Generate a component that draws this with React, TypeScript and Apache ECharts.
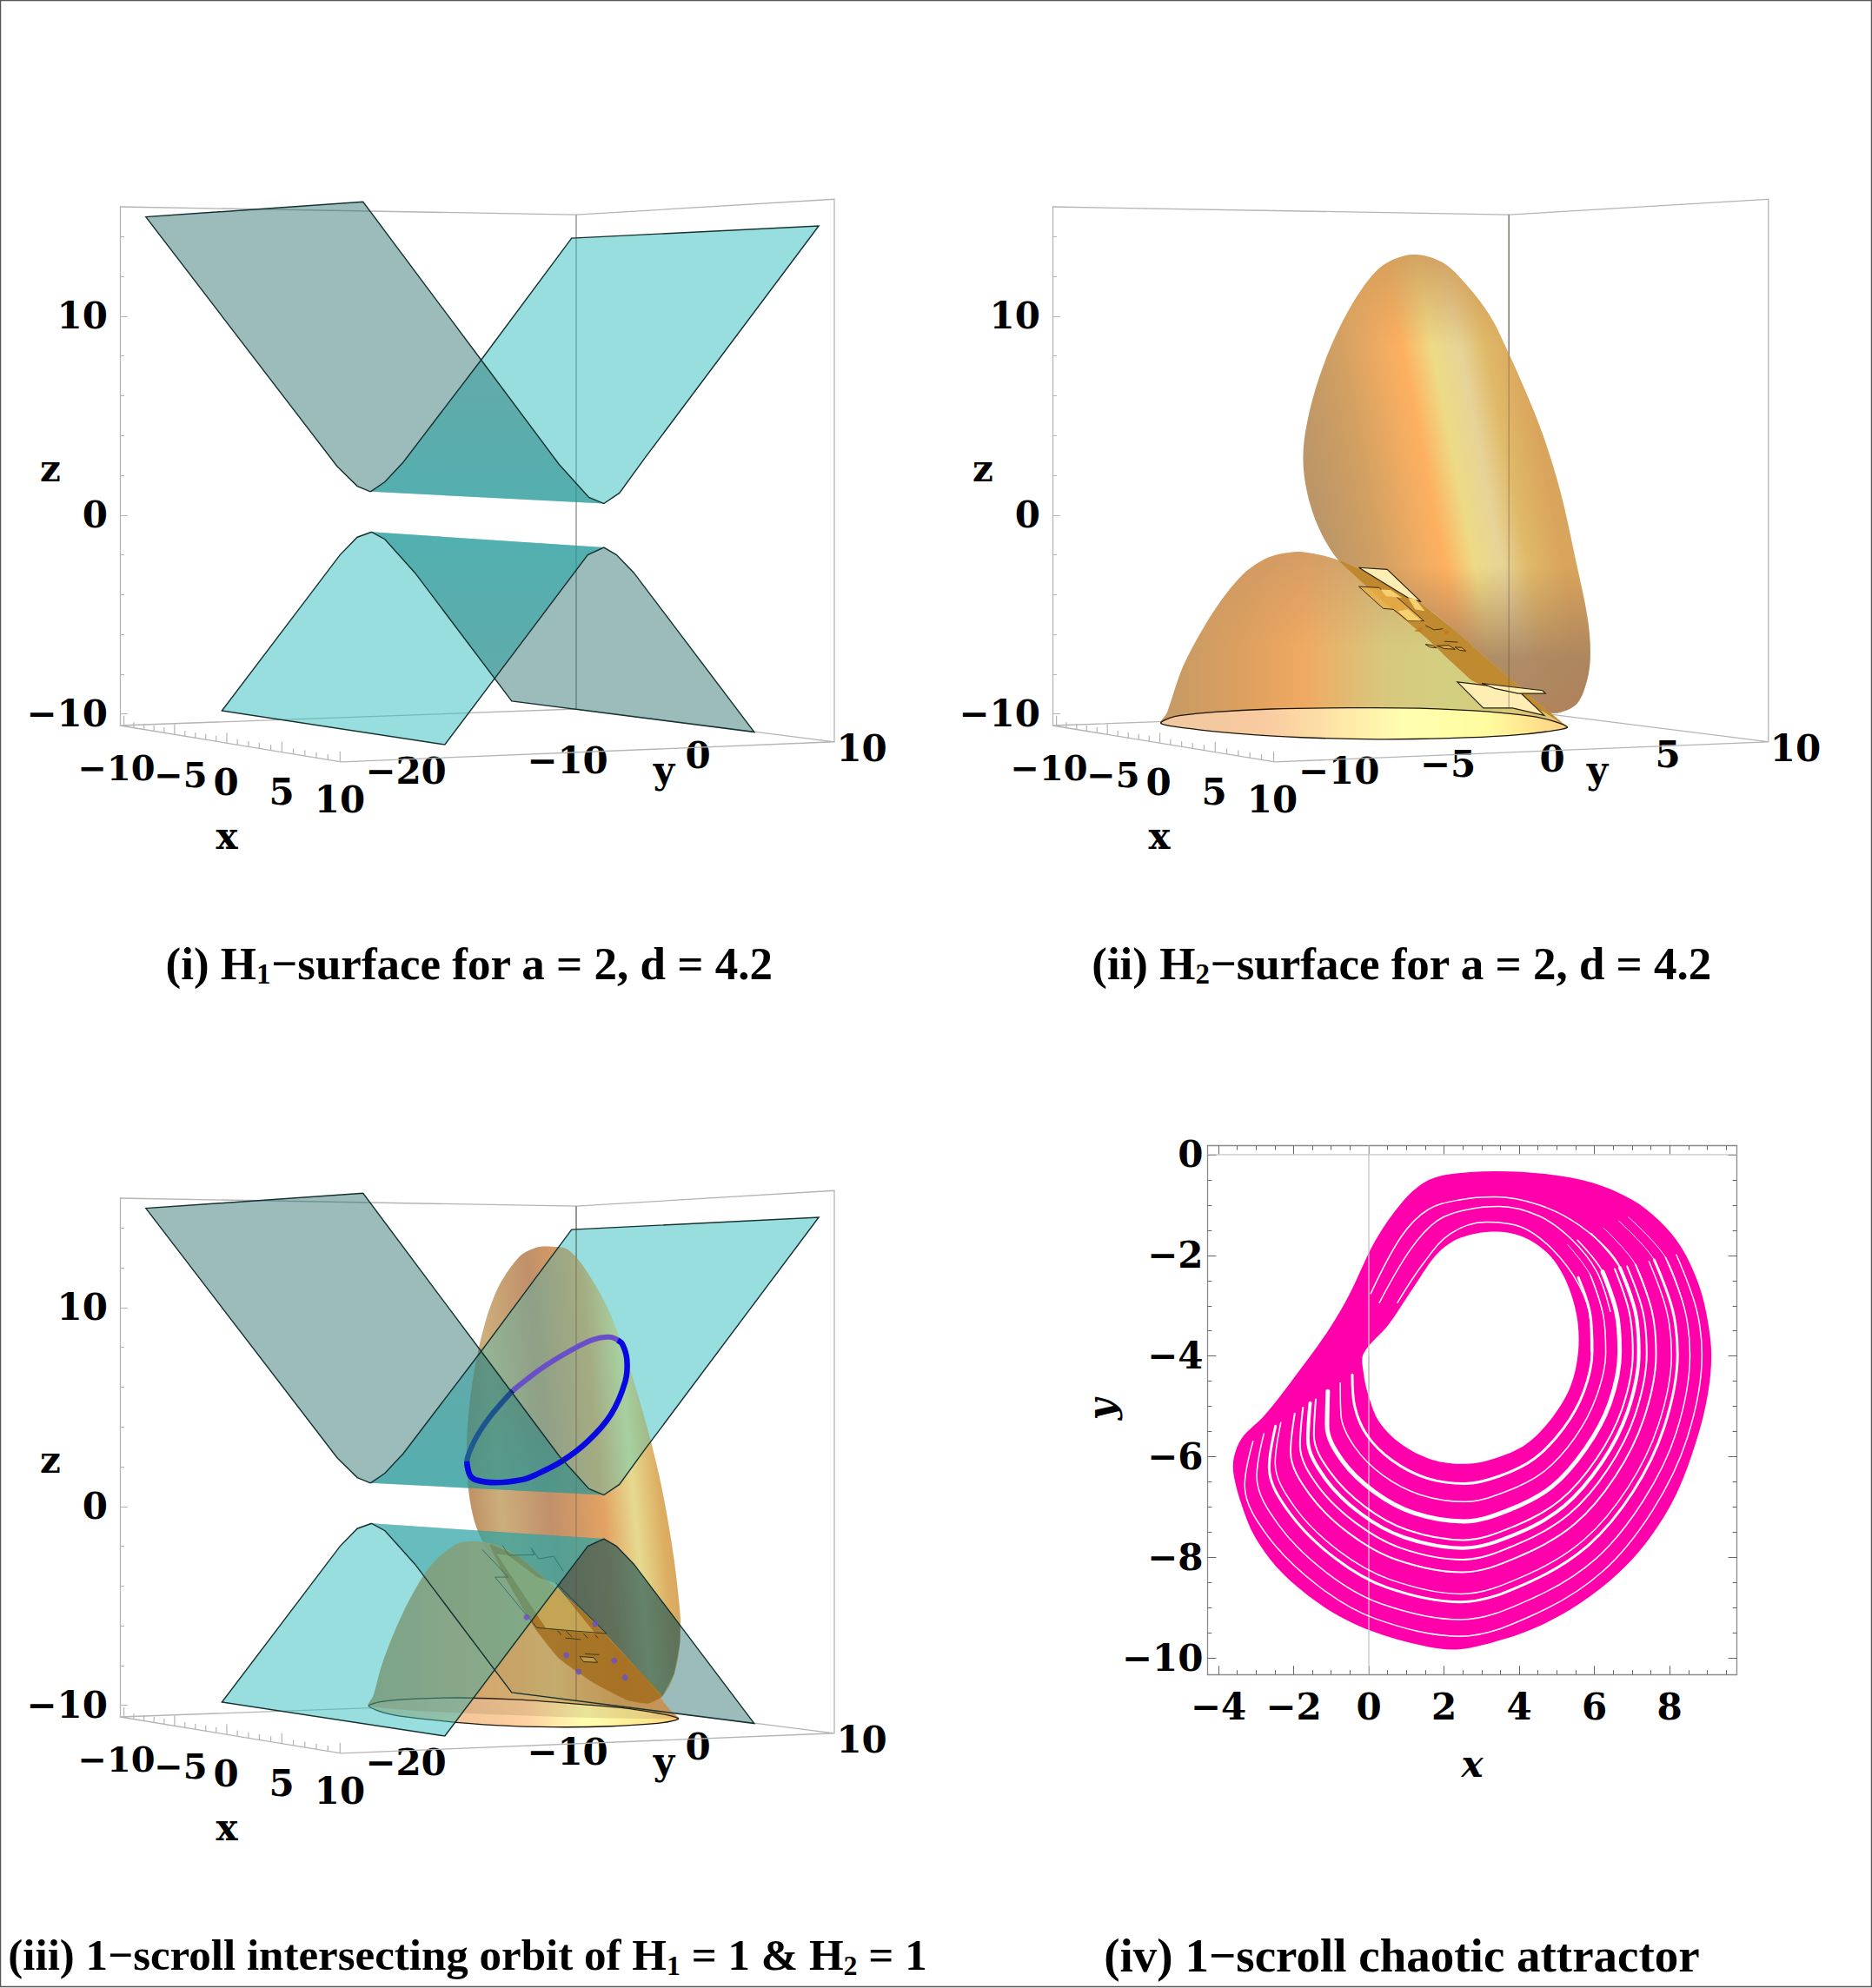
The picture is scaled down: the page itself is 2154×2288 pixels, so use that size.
import React, { useEffect, useRef } from "react";
import * as echarts from "echarts";

type P = number[];
const FONT = '"Liberation Serif"';
const NUMFONT = '"DejaVu Serif"';

// ---------- panels (i) and (iii): projected surface outlines, [horizontal picture unit, z] ----------
const frameA = { L: 208, M: 1000, R: 1448, F: 592 };
const frameB = { L: 178, M: 952, R: 1392, F: 555 };
const frameZ = { TL: 15.5, TM: 15.1, TR: 15.88, BR: -11.4, BM: -9.75, BL: -10.58, FB: -12.41 };
const xTickFractions = [0.018, 0.0625, 0.109, 0.154, 0.2, 0.247, 0.294, 0.341, 0.388, 0.435, 0.483, 0.531, 0.581, 0.63, 0.682, 0.732, 0.784, 0.836, 0.888, 0.94, 0.995];
const zMajor = [-10, 0, 10];
const zMinor = [-8, -6, -4, -2, 2, 4, 6, 8, 12, 14];

const upperLeftWing: P[] = [[253, 14.99], [630, 15.75], [835, 7.8], [970, 2.56], [1022, 0.89], [1048, 0.58], [643, 1.18], [620, 1.45], [585, 2.45]];
const upperRightWing: P[] = [[992, 13.92], [1421, 14.54], [1120, 2.9], [1075, 1.11], [1048, 0.58], [643, 1.18], [668, 1.67], [700, 2.67], [835, 7.8]];
const upperOverlap: P[] = [[835, 7.8], [970, 2.56], [1022, 0.89], [1048, 0.58], [643, 1.18], [668, 1.67], [700, 2.67]];
const lowerFrontWing: P[] = [[385, -9.84], [590, -2.0], [620, -1.11], [645, -0.85], [1048, -1.63], [1020, -2.0], [772, -11.54]];
const lowerBackWing: P[] = [[645, -0.85], [668, -1.22], [720, -2.9], [888, -9.35], [1309, -10.91], [1100, -2.9], [1070, -2.0], [1048, -1.63]];
const lowerOverlap: P[] = [[645, -0.85], [668, -1.22], [720, -2.9], [855, -8.13], [1020, -2.0], [1048, -1.63]];
const upperOutline: P[] = [[643, 1.18], [620, 1.45], [585, 2.45], [253, 14.99], [630, 15.75], [835, 7.8], [970, 2.56], [1022, 0.89], [1048, 0.58], [1075, 1.11], [1120, 2.9], [1421, 14.54], [992, 13.92], [835, 7.8], [700, 2.67], [668, 1.67], [643, 1.18]];
const lowerOutline: P[] = [[645, -0.85], [620, -1.11], [590, -2.0], [385, -9.84], [772, -11.54], [1020, -2.0], [1048, -1.63], [1070, -2.0], [1100, -2.9], [1309, -10.91], [888, -9.35], [720, -2.9], [668, -1.22], [645, -0.85]];

// ---------- panel (ii) ----------
const lobe2: P[] = [[790, 13.1], [840, 12.69], [880, 11.58], [920, 10.02], [950, 8.24], [980, 6.24], [1010, 4.01], [1040, 1.11], [1065, -2.23], [1085, -5.12], [1090, -6.9], [1085, -8.24], [1068, -9.46], [1040, -9.91], [1012, -9.91], [968, -9.33], [889, -8.31], [810, -6.12], [747, -4.54], [663, -2.27], [630, -0.67], [610, 1.11], [603, 2.9], [610, 4.68], [630, 6.9], [660, 9.13], [700, 11.25], [740, 12.58]];
const dome2: P[] = [[362, -10.47], [372, -9.95], [400, -7.57], [450, -4.9], [500, -3.01], [545, -2.12], [590, -1.85], [630, -2.0], [663, -2.27], [720, -3.0], [800, -4.39], [860, -5.79], [918, -7.3], [1000, -9.4], [1040, -10.4], [1051, -10.65], [700, -10.6]];
const overlap2: P[] = [[663, -2.27], [720, -3.0], [800, -4.39], [860, -5.79], [918, -7.3], [1000, -9.4], [1051, -10.65], [1012, -9.91], [968, -9.33], [889, -8.31], [810, -6.12], [747, -4.54]];
const base2: P[] = [[362, -10.47], [385, -10.13], [450, -9.91], [550, -9.75], [680, -9.69], [800, -9.71], [920, -9.89], [1000, -10.16], [1051, -10.65], [1020, -10.87], [950, -11.09], [850, -11.22], [730, -11.27], [600, -11.18], [490, -10.98], [410, -10.73]];
const patchesCream2: P[][] = [
  [[697.5, -2.64], [745.6, -2.73], [803, -4.36], [781, -4.16], [737, -3.36]],
  [[864.5, -8.39], [965, -8.75], [1012, -10.07], [958, -9.7], [908.7, -9.7]],
  [[906, -8.46], [1009, -8.82], [1014, -8.97], [967.7, -8.97], [928, -8.72]],
];
const patchesAmber2: P[][] = [
  [[697.5, -3.59], [732, -3.65], [744, -4.03], [761, -4.1], [808, -5.32], [781, -5.32], [756, -4.74], [739, -4.7]],
  [[810.5, -6.5], [823, -6.55], [829, -6.68], [818, -6.64]],
  [[830, -6.57], [850, -6.55], [860.6, -6.75], [842, -6.71]],
  [[860.6, -6.64], [872, -6.66], [879, -6.84], [868.4, -6.79]],
];
const patchesPale2: P[][] = [
  [[734, -3.74], [751.5, -3.77], [771, -4.16], [744, -4.08]],
  [[764, -4.83], [781, -4.74], [803, -5.32], [781, -5.3]],
  [[781, -4.16], [793, -4.2], [809.5, -4.82], [793, -4.74]],
];
const chevrons2: P[][] = [
  [[840, -5.77], [852, -5.83], [845, -6.01]],
  [[791, -5.83], [805.6, -5.62], [803, -5.87]],
];
const marks2: P[][] = [
  [[810.5, -5.55], [825, -5.77], [840, -5.72]],
  [[842.4, -6.35], [865.5, -6.39]],
];

// ---------- panel (iii) ----------
const lobe3: P[] = [[955, 13.07], [985, 12.92], [1020, 11.74], [1060, 9.62], [1100, 6.28], [1140, 2.05], [1165, -1.74], [1180, -5.3], [1180, -6.86], [1170, -8.42], [1150, -9.53], [1125, -9.91], [1090, -9.75], [1030, -8.86], [970, -7.64], [930, -6.19], [880, -3.74], [830, -1.29], [812, 1.16], [812, 4.28], [830, 7.84], [860, 10.73], [900, 12.52], [930, 13.01]];
const dome3: P[] = [[640, -10.04], [648, -9.5], [665, -7.75], [700, -5.3], [745, -3.07], [790, -1.92], [822, -1.74], [860, -1.92], [900, -2.52], [950, -3.74], [1020, -5.52], [1100, -7.97], [1165, -10.3], [1177, -10.65], [900, -10.5]];
const overlap3: P[] = [[850, -1.9], [900, -2.52], [950, -3.74], [1020, -5.52], [1100, -7.97], [1150, -9.53], [1125, -9.91], [1090, -9.75], [1030, -8.86], [970, -7.64], [930, -6.19], [880, -3.74]];
const lobeBehindWing3: P[] = [[1048, -1.63], [1070, -2.0], [1100, -2.9], [1180, -5.95], [1180, -6.86], [1170, -8.42], [1150, -9.53], [1100, -7.97], [1020, -5.52], [965, -4.1], [1020, -2.0]];
const base3: P[] = [[640, -10.04], [660, -9.82], [720, -9.67], [800, -9.62], [900, -9.71], [1000, -9.93], [1100, -10.2], [1177, -10.65], [1150, -10.87], [1060, -11.05], [960, -11.09], [860, -11.0], [760, -10.76], [680, -10.47]];
const patchLight3: P[] = [[862, -2.39], [882, -2.46], [932, -3.55], [962, -3.84], [1033, -6.39], [947, -6.1]];
const patchSmall3: P[] = [[1006, -7.55], [1030, -7.59], [1037, -7.84], [1013, -7.81]];
const marks3: P[][] = [
  [[837, -2.17], [882, -3.55], [859, -3.55], [932, -6.1], [1053, -6.39], [965, -3.84]],
  [[872, -1.95], [883, -2.46], [927, -2.43], [922, -2.09], [935, -2.63], [961, -2.5], [977.5, -3.26]],
  [[1015, -7.41], [1040, -7.45]],
  [[981, -6.61], [1008, -6.69]],
  [[967.5, -6.24], [974, -6.46]],
  [[982.5, -6.27], [992.6, -6.56]],
  [[1012.7, -6.39], [1020, -6.63]],
  [[1033, -6.46], [1038, -6.63]],
];
const orbitFront: P[] = [[1072, 8.35], [1080, 8.17], [1088, 7.39], [1085, 6.28], [1060, 4.61], [1020, 3.27], [975, 2.27], [930, 1.6], [905, 1.34], [860, 1.2], [825, 1.34], [815, 1.6], [810, 2.27]];
const orbitBackLow: P[] = [[815, 1.6], [810, 2.27], [825, 3.39], [850, 4.5], [890, 5.83]];
const orbitBackHigh: P[] = [[890, 5.83], [940, 6.95], [990, 7.84], [1030, 8.4], [1060, 8.51], [1076, 8.3]];
const orbitDots: P[] = [[914, -5.57], [1033, -5.9], [983, -7.48], [1066, -7.75], [1004, -8.31], [1085, -8.6]];

// ---------- panel (iv): attractor in x, y ----------
const attractorOuter: P[] = [[3.35, -0.33], [4.77, -0.39], [5.95, -0.56], [7.01, -0.9], [7.72, -1.31], [8.31, -1.84], [8.78, -2.59], [9.01, -3.29], [9.11, -3.99], [9.01, -4.78], [8.72, -5.66], [8.19, -6.72], [7.48, -7.6], [6.65, -8.3], [5.59, -8.92], [4.53, -9.36], [3.59, -9.62], [2.41, -9.82], [1.46, -9.75], [0.05, -9.45], [-1.13, -9.01], [-2.31, -8.3], [-3.02, -7.6], [-3.37, -6.98], [-3.59, -6.37], [-3.59, -6.02], [-3.37, -5.62], [-2.78, -5.18], [-2.08, -4.52], [-1.13, -3.55], [-0.54, -2.81], [0.17, -1.71], [0.87, -0.96], [1.46, -0.56], [2.05, -0.4]];
const attractorHole: P[] = [[3.29, -1.53], [4.06, -1.62], [4.77, -1.97], [5.24, -2.5], [5.53, -3.2], [5.57, -3.91], [5.36, -4.61], [4.88, -5.22], [4.18, -5.75], [3.35, -6.03], [2.58, -6.14], [1.7, -6.06], [0.87, -5.75], [0.28, -5.31], [-0.01, -4.78], [-0.14, -4.34], [-0.14, -3.95], [0.52, -3.38], [1.23, -2.59], [1.82, -1.97], [2.41, -1.66]];
const gap01: P[] = [[-0.44, -4.37], [-0.38, -4.98], [-0.05, -5.57], [0.62, -6.07], [1.53, -6.42], [2.56, -6.53], [3.48, -6.38], [4.41, -6.03], [5.18, -5.43], [5.71, -4.72], [5.94, -3.92], [5.89, -3.18], [5.57, -2.44]];
const gap02: P[] = [[-0.76, -4.53], [-0.74, -5.17], [-0.37, -5.81], [0.38, -6.37], [1.36, -6.75], [2.55, -6.89], [3.61, -6.7], [4.64, -6.3], [5.47, -5.63], [6.04, -4.83], [6.3, -3.93], [6.23, -3.17], [5.89, -2.39]];
const gap03: P[] = [[-1.09, -4.7], [-1.11, -5.38], [-0.71, -6.07], [0.14, -6.69], [1.19, -7.11], [2.53, -7.28], [3.74, -7.05], [4.87, -6.59], [5.77, -5.83], [6.4, -4.95], [6.67, -3.93], [6.59, -3.15], [6.22, -2.33]];
const gap04: P[] = [[-1.41, -4.86], [-1.46, -5.57], [-1.02, -6.31], [-0.1, -6.99], [1.02, -7.45], [2.51, -7.65], [3.86, -7.38], [5.09, -6.86], [6.06, -6.03], [6.73, -5.06], [7.02, -3.94], [6.93, -3.14], [6.54, -2.27]];
const gap05: P[] = [[-1.56, -4.93], [-1.62, -5.65], [-1.17, -6.42], [-0.21, -7.13], [0.95, -7.6], [2.5, -7.81], [3.92, -7.53], [5.19, -6.98], [6.19, -6.12], [6.88, -5.11], [7.18, -3.95], [7.09, -3.13], [6.68, -2.25]];
const gap06: P[] = [[-1.75, -5.02], [-1.83, -5.77], [-1.36, -6.57], [-0.35, -7.31], [0.85, -7.81], [2.49, -8.04], [3.99, -7.72], [5.32, -7.14], [6.36, -6.24], [7.08, -5.17], [7.39, -3.95], [7.29, -3.12], [6.87, -2.22]];
const gap07: P[] = [[-1.97, -5.14], [-2.08, -5.9], [-1.58, -6.74], [-0.52, -7.52], [0.73, -8.04], [2.48, -8.29], [4.08, -7.95], [5.48, -7.33], [6.56, -6.38], [7.31, -5.25], [7.64, -3.96], [7.53, -3.11], [7.09, -2.18]];
const gap08: P[] = [[-2.34, -5.32], [-2.49, -6.12], [-1.95, -7.02], [-0.79, -7.87], [0.55, -8.43], [2.46, -8.72], [4.23, -8.33], [5.73, -7.64], [6.89, -6.61], [7.7, -5.37], [8.05, -3.97], [7.92, -3.1], [7.45, -2.12]];
const gap09: P[] = [[-2.48, -5.39], [-2.65, -6.21], [-2.09, -7.13], [-0.9, -8.01], [0.47, -8.59], [2.45, -8.88], [4.28, -8.48], [5.83, -7.76], [7.02, -6.7], [7.85, -5.42], [8.21, -3.97], [8.08, -3.09], [7.59, -2.09]];
const gap10: P[] = [[-2.79, -5.54], [-2.98, -6.39], [-2.39, -7.36], [-1.12, -8.3], [0.31, -8.91], [2.44, -9.23], [4.4, -8.79], [6.04, -8.02], [7.29, -6.88], [8.17, -5.53], [8.54, -3.98], [8.4, -3.07], [7.89, -2.04]];
const gap11: P[] = [[-3.08, -5.69], [-3.3, -6.57], [-2.68, -7.58], [-1.33, -8.57], [0.17, -9.21], [2.42, -9.56], [4.51, -9.09], [6.24, -8.26], [7.55, -7.06], [8.47, -5.62], [8.86, -3.98], [8.71, -3.06], [8.18, -1.99]];
const gapTop1: P[] = [[0.05, -2.76], [0.87, -1.62], [1.58, -1.09], [2.41, -0.9], [3.35, -0.84], [4.53, -1.0], [5.59, -1.4], [6.54, -2.06], [7.01, -2.85]];
const gapTop2: P[] = [[0.28, -2.94], [1.11, -1.88], [1.82, -1.31], [2.64, -1.09], [3.47, -1.03], [4.53, -1.22], [5.36, -1.66], [6.06, -2.32], [6.42, -3.11]];
const gapTop3: P[] = [[0.76, -2.94], [1.46, -2.15], [2.17, -1.57], [3.12, -1.34], [4.06, -1.44], [4.88, -1.88], [5.59, -2.59], [5.89, -3.29], [5.91, -3.91]];
const tail02: P[] = [[6.23, -3.17], [5.89, -2.39], [5.29, -1.79]];
const tail03: P[] = [[6.59, -3.15], [6.22, -2.33], [5.55, -1.7]];
const tail05: P[] = [[7.09, -3.13], [6.68, -2.25], [5.92, -1.57]];
const tail07: P[] = [[7.53, -3.11], [7.09, -2.18], [6.25, -1.46]];
const tail09: P[] = [[8.08, -3.09], [7.59, -2.09], [6.65, -1.32]];
const tail10: P[] = [[8.4, -3.07], [7.89, -2.04], [6.9, -1.24]];
const gapLines: [P[], number][] = [[gap01, 3], [gap02, 1.5], [gap03, 5], [gap04, 2], [gap05, 4], [gap06, 2], [gap07, 2], [gap08, 1.5], [gap09, 3], [gap10, 1.5], [gap11, 1.5], [gapTop1, 1.5], [gapTop2, 1.5], [gapTop3, 1.5], [tail02, 1], [tail03, 1.5], [tail05, 1.5], [tail07, 1], [tail09, 1], [tail10, 1]];
const xTicks4 = [-4, -2, 0, 2, 4, 6, 8];
const xMinor4 = [-4, -3.5, -3, -2.5, -2, -1.5, -1, -0.5, 0, 0.5, 1, 1.5, 2, 2.5, 3, 3.5, 4, 4.5, 5, 5.5, 6, 6.5, 7, 7.5, 8, 8.5, 9, 9.5];
const yTicks4 = [-10, -8, -6, -4, -2, 0];
const yMinor4 = [-10, -9.5, -9, -8.5, -8, -7.5, -7, -6.5, -6, -5.5, -5, -4.5, -4, -3.5, -3, -2.5, -2, -1.5, -1, -0.5, 0];

const minus = (v: number | string) => String(v).replace("-", "\u2212");
const grad = (x0: number, y0: number, x1: number, y1: number, stops: [number, string][]) =>
  new echarts.graphic.LinearGradient(x0, y0, x1, y1, stops.map(([offset, color]) => ({ offset, color })));

export default function App() {
  const ref = useRef<HTMLDivElement>(null);
  useEffect(() => {
    document.body.style.margin = "0";
    document.body.style.overflow = "hidden";
    const chart = echarts.init(ref.current!, null, { renderer: "svg" });

    const series: any[] = [];
    const poly = (p: number, pts: P[], style: any, smooth = 0) =>
      series.push({
        type: "custom", xAxisIndex: p, yAxisIndex: p * 2, data: pts, encode: { x: 0, y: 1 }, silent: true,
        renderItem: (params: any, api: any) =>
          params.dataIndex === 0 ? { type: "polygon", shape: { points: pts.map((q) => api.coord(q)), smooth }, style } : null,
      });
    const line = (p: number, pts: P[], style: any, smooth = 0) =>
      series.push({
        type: "custom", xAxisIndex: p, yAxisIndex: p * 2, data: pts, encode: { x: 0, y: 1 }, silent: true,
        renderItem: (params: any, api: any) =>
          params.dataIndex === 0 ? { type: "polyline", shape: { points: pts.map((q) => api.coord(q)), smooth }, style: { fill: "none", ...style } } : null,
      });

    const BOX = { stroke: "#b4b4b4", lineWidth: 1.3 };
    const frame = (p: number, f: typeof frameA) => {
      const z = frameZ;
      line(p, [[f.L, z.TL], [f.M, z.TM], [f.R, z.TR], [f.R, z.BR], [f.F, z.FB], [f.L, z.BL], [f.M, z.BM], [f.R, z.BR]], BOX);
      line(p, [[f.M, z.TM], [f.M, z.BM]], { stroke: "#8a8a8a", lineWidth: 1.3 });
      const ticks = xTickFractions.map((t, i) => [f.L + (f.F - f.L) * t, z.BL + (z.FB - z.BL) * t, i % 5 === 0 ? 0.52 : 0.28]);
      series.push({
        type: "custom", xAxisIndex: p, yAxisIndex: p * 2, data: ticks, encode: { x: 0, y: 1 }, silent: true,
        renderItem: (_: any, api: any) => {
          const a = api.coord([api.value(0), api.value(1)]);
          const b = api.coord([api.value(0), api.value(1) + api.value(2)]);
          return { type: "line", shape: { x1: a[0], y1: a[1], x2: b[0], y2: b[1] }, style: { stroke: "#b4b4b4", lineWidth: 1.2 } };
        },
      });
    };
    const EDGE = { stroke: "#14302f", lineWidth: 1.4 };
    const CYAN = "rgba(50,190,190,0.5)";
    const GRAY = "rgba(35,106,106,0.45)";

    // panel i
    frame(0, frameA);
    poly(0, upperRightWing, { fill: CYAN });
    poly(0, lowerFrontWing, { fill: CYAN });
    poly(0, upperLeftWing, { fill: GRAY });
    poly(0, lowerBackWing, { fill: GRAY });
    poly(0, upperOverlap, { fill: grad(0, 0, 0, 1, [[0, "rgba(40,190,190,0)"], [1, "rgba(40,190,190,0.25)"]]) });
    poly(0, lowerOverlap, { fill: grad(0, 0, 0, 1, [[0, "rgba(40,190,190,0.3)"], [1, "rgba(40,190,190,0.05)"]]) });
    line(0, upperOutline, EDGE);
    line(0, lowerOutline, EDGE);

    // panel ii
    frame(1, frameB);
    const lobeFill2 = grad(0.08, 0.63, 0.82, 0.4, [[0, "#bd9668"], [0.22, "#d2a062"], [0.4, "#f0ac62"], [0.49, "#fdb060"], [0.62, "#eedb85"], [0.74, "#e6d398"], [0.85, "#e0b968"], [1, "#d9a55c"]]);
    poly(1, lobe2, { fill: lobeFill2 }, 0.33);
    poly(1, lobe2, { fill: grad(0, 0, 0, 1, [[0, "rgba(208,156,92,0.9)"], [0.2, "rgba(208,156,92,0)"], [0.68, "rgba(170,125,90,0)"], [0.88, "rgba(165,128,95,0.85)"], [1, "rgba(170,125,90,0.9)"]]) }, 0.33);
    poly(1, dome2, { fill: grad(0, 0, 1, 0, [[0, "#c39a66"], [0.2, "#dca05f"], [0.35, "#f0a962"], [0.55, "#d8c87e"], [0.72, "#d2cf80"], [1, "#e0c070"]]) }, 0.3);
    poly(1, dome2, { fill: grad(0, 0, 0, 1, [[0, "rgba(200,150,100,0.65)"], [0.55, "rgba(200,150,100,0)"], [1, "rgba(200,150,100,0)"]]) }, 0.3);
    poly(1, overlap2, { fill: "rgba(190,132,40,0.9)" }, 0.1);
    patchesCream2.forEach((q) => poly(1, q, { fill: "#ffeeb4", stroke: "#2a2010", lineWidth: 1.2 }));
    patchesAmber2.forEach((q) => poly(1, q, { fill: "rgba(232,176,72,0.8)", stroke: "#3a2a08", lineWidth: 1 }));
    patchesPale2.forEach((q) => poly(1, q, { fill: "#f7d070" }));
    chevrons2.forEach((q) => poly(1, q, { fill: "#c97a18" }));
    marks2.forEach((q) => line(1, q, { stroke: "#4a3208", lineWidth: 1 }));
    poly(1, base2, { fill: grad(0, 0, 1, 0, [[0, "#f0c8a0"], [0.25, "#f8caa0"], [0.45, "#ffe8a8"], [0.6, "#ffffb0"], [0.8, "#fffca0"], [1, "#ffd080"]]), stroke: "#1c1608", lineWidth: 1.3 }, 0.33);
    line(1, [[frameB.M, frameZ.TM], [frameB.M, frameZ.BM]], { stroke: "rgba(90,70,50,0.4)", lineWidth: 1.3 });

    // panel iii
    const lobeFill3 = grad(0, 0.6, 1, 0.4, [[0, "#bd8d60"], [0.16, "#ccae7c"], [0.38, "#c1906a"], [0.62, "#e2a262"], [0.76, "#e6da90"], [0.88, "#dcae62"], [1, "#d49c58"]]);
    frame(2, frameA);
    poly(2, lobe3, { fill: lobeFill3 }, 0.33);
    poly(2, upperRightWing, { fill: CYAN });
    poly(2, lobe3, { fill: lobeFill3, opacity: 0.3 }, 0.33);
    poly(2, lowerBackWing, { fill: GRAY });
    poly(2, lobeBehindWing3, { fill: "rgba(30,70,70,0.38)" });
    poly(2, dome3, { fill: grad(0, 0, 1, 0, [[0, "rgba(193,154,102,0.85)"], [0.3, "rgba(230,166,96,0.85)"], [0.6, "rgba(224,189,112,0.85)"], [0.8, "rgba(217,160,80,0.85)"], [1, "rgba(224,156,80,0.85)"]]) }, 0.3);
    poly(2, overlap3, { fill: "rgba(170,110,20,0.75)" }, 0.1);
    poly(2, patchLight3, { fill: "rgba(240,225,140,0.55)" });
    poly(2, patchSmall3, { fill: "rgba(255,240,170,0.35)", stroke: "#2a2a10", lineWidth: 1 });
    marks3.forEach((q) => line(2, q, { stroke: "#2a3a20", lineWidth: 1 }));
    poly(2, base3, { fill: grad(0, 0, 1, 0, [[0, "#e0b890"], [0.5, "#ffd0a0"], [0.7, "#ffffb0"], [0.9, "#ffe890"], [1, "#ffcf80"]]), stroke: "#1c1608", lineWidth: 1.3 }, 0.33);
    line(2, [[frameA.M, frameZ.TM], [frameA.M, frameZ.BM]], { stroke: "rgba(90,70,50,0.4)", lineWidth: 1.3 });
    poly(2, lowerFrontWing, { fill: CYAN });
    poly(2, dome3, { fill: "rgba(110,80,40,0.16)" }, 0.3);
    line(2, orbitBackLow, { stroke: "#1428a0", lineWidth: 6 }, 0.33);
    line(2, orbitBackHigh, { stroke: "#6a50c8", lineWidth: 6 }, 0.33);
    poly(2, upperLeftWing, { fill: GRAY });
    poly(2, upperOverlap, { fill: grad(0, 0, 0, 1, [[0, "rgba(40,190,190,0)"], [1, "rgba(40,190,190,0.25)"]]) });
    line(2, orbitFront, { stroke: "#0808e0", lineWidth: 6.5 }, 0.33);
    series.push({ type: "scatter", xAxisIndex: 2, yAxisIndex: 4, data: orbitDots, symbolSize: 7, itemStyle: { color: "#6a50c8" }, silent: true });
    line(2, upperOutline, EDGE);
    line(2, lowerOutline, EDGE);

    // panel iv
    const xy4 = { xAxisIndex: 3, yAxisIndex: 6 };
    const ZERO = { color: "#c4c4c4", width: 1.3 };
    const xMin4 = -4.29, xMax4 = 9.79, yMin4 = -10.32, yMax4 = 0.176;
    series.push({ type: "line", ...xy4, data: [[0, yMin4], [0, yMax4]], symbol: "none", lineStyle: ZERO, silent: true });
    series.push({ type: "line", ...xy4, data: [[xMin4, 0], [xMax4, 0]], symbol: "none", lineStyle: ZERO, silent: true });
    const area = (pts: P[], fill: string) =>
      series.push({
        type: "custom", ...xy4, data: pts, encode: { x: 0, y: 1 }, silent: true,
        renderItem: (params: any, api: any) =>
          params.dataIndex === 0 ? { type: "polygon", shape: { points: pts.map((q) => api.coord(q)), smooth: 0.33 }, style: { fill } } : null,
      });
    area(attractorOuter, "#FF00AA");
    area(attractorHole, "#ffffff");
    gapLines.forEach(([pts, width]) =>
      series.push({ type: "line", ...xy4, data: pts, symbol: "none", smooth: 0.35, lineStyle: { color: "#fff", width, cap: "round" }, silent: true })
    );
    series.push({ type: "line", ...xy4, data: [[0, -4.0], [0, -4.72]], symbol: "none", lineStyle: ZERO, silent: true });

    const numLabel = { fontFamily: NUMFONT, fontWeight: "bold", fontSize: 42, color: "#000", formatter: minus };
    const hiddenX = (grid: number, min: number, max: number) => ({ type: "value", gridIndex: grid, min, max, show: false });
    const zAxes = (grid: number) => [
      {
        type: "value", gridIndex: grid, min: frameZ.BL, max: frameZ.TL, position: "left",
        axisLine: { show: true, onZero: false, lineStyle: { color: "#b4b4b4", width: 1.3 } },
        axisTick: { show: true, inside: true, length: 9, customValues: zMajor, lineStyle: { color: "#b4b4b4" } },
        axisLabel: { ...numLabel, show: true, customValues: zMajor, margin: 14, padding: [6, 0, 0, 0] },
        splitLine: { show: false },
      },
      {
        type: "value", gridIndex: grid, min: frameZ.BL, max: frameZ.TL, position: "left",
        axisLine: { show: false, onZero: false },
        axisTick: { show: true, inside: true, length: 5, customValues: zMinor, lineStyle: { color: "#b4b4b4" } },
        axisLabel: { show: false }, splitLine: { show: false },
      },
    ];
    const G4 = { gridIndex: 3, type: "value", splitLine: { show: false } };
    const line4 = { show: true, onZero: false, lineStyle: { color: "#8a8a8a", width: 1.3 } };
    const off4 = { show: false, onZero: false };
    const tk = (length: number, customValues: number[]) => ({ show: true, inside: true, length, customValues, lineStyle: { color: "#666" } });
    const X4 = { ...G4, min: xMin4, max: xMax4 };
    const Y4 = { ...G4, min: yMin4, max: yMax4 };

    const txt = (text: string, x: number, y: number, italic = false, rotation = 0, size = 42) => ({
      type: "text", x, y, rotation,
      style: { text, fill: "#000", font: `${italic ? "italic " : ""}bold ${size}px ${NUMFONT}`, textAlign: "center", textVerticalAlign: "middle" },
    });
    const xLabels = (dx: number, dy: number) => [
      txt("\u221210", 134 + dx, 883 + dy, false, 0, 40), txt("\u22125", 208 + dx, 891 + dy, false, 0, 40), txt("0", 260 + dx, 900 + dy),
      txt("5", 324 + dx, 911 + dy), txt("10", 391 + dx, 920 + dy), txt("x", 261 + dx, 962 + dy), txt("z", 58 + dx, 539 + dy),
    ];
    const yLabelsA = (dy: number) => [
      txt("\u221220", 467, 887 + dy), txt("\u221210", 653, 875 + dy), txt("y", 764, 886 + dy), txt("0", 803, 869 + dy), txt("10", 991.6, 861 + dy),
    ];

    const title = (text: string, left: number, top: number, fontSize: number) => {
      const cap = { fontFamily: FONT, fontWeight: "bold", fontSize, color: "#000", lineHeight: 56 };
      const sub = { ...cap, fontSize: Math.round(fontSize * 0.62), verticalAlign: "bottom", lineHeight: 44 };
      return { text, left, top, textAlign: "center", padding: 0, textStyle: { ...cap, rich: { a: cap, s: sub } } };
    };

    chart.setOption({
      animation: false,
      backgroundColor: "#fff",
      title: [
        title("{a|(i) H}{s|1}{a|\u2212surface for a = 2, d = 4.2}", 540, 1081, 53),
        title("{a|(ii) H}{s|2}{a|\u2212surface for a = 2, d = 4.2}", 1613, 1081, 53),
        title("{a|(iii) 1\u2212scroll intersecting orbit of H}{s|1}{a| = 1 & H}{s|2}{a| = 1}", 538, 2222, 51),
        title("{a|(iv) 1\u2212scroll chaotic attractor}", 1613, 2222, 55),
      ],
      grid: [
        { left: 138, top: 238, width: 822, height: 597 },
        { left: 1211, top: 238, width: 823.8, height: 597 },
        { left: 138, top: 1379, width: 822, height: 597 },
        { left: 1389.4, top: 1318.6, width: 609.2, height: 608.6 },
      ],
      xAxis: [
        hiddenX(0, frameA.L, frameA.R),
        hiddenX(1, frameB.L, frameB.R),
        hiddenX(2, frameA.L, frameA.R),
        { ...X4, position: "bottom", axisLine: line4, axisTick: tk(10, xTicks4), axisLabel: { ...numLabel, customValues: xTicks4, margin: 16 } },
        { ...X4, position: "bottom", axisLine: off4, axisTick: tk(5, xMinor4), axisLabel: { show: false } },
        { ...X4, position: "top", axisLine: line4, axisTick: tk(10, xTicks4), axisLabel: { show: false } },
        { ...X4, position: "top", axisLine: off4, axisTick: tk(5, xMinor4), axisLabel: { show: false } },
      ],
      yAxis: [
        ...zAxes(0), ...zAxes(1), ...zAxes(2),
        { ...Y4, position: "left", axisLine: line4, axisTick: tk(10, yTicks4), axisLabel: { ...numLabel, customValues: yTicks4, margin: 5, padding: [6, 0, 0, 0] } },
        { ...Y4, position: "left", axisLine: off4, axisTick: tk(5, yMinor4), axisLabel: { show: false } },
        { ...Y4, position: "right", axisLine: line4, axisTick: tk(10, yTicks4), axisLabel: { show: false } },
        { ...Y4, position: "right", axisLine: off4, axisTick: tk(5, yMinor4), axisLabel: { show: false } },
      ],
      series,
      graphic: [
        { type: "rect", shape: { x: 0.5, y: 0.5, width: 2153, height: 2286 }, style: { fill: "none", stroke: "#555", lineWidth: 1.5 }, silent: true },
        ...xLabels(0, 0), ...yLabelsA(0),
        ...xLabels(1073, 0),
        txt("\u221210", 1540.6, 887), txt("\u22125", 1666, 879.6), txt("0", 1786, 873), txt("y", 1838, 886), txt("5", 1919, 868), txt("10", 2066, 861),
        ...xLabels(0, 1141), ...yLabelsA(1141),
        txt("x", 1694, 2030, true),
        txt("y", 1267, 1622, true, Math.PI / 2),
      ],
    });
    return () => chart.dispose();
  }, []);
  return <div ref={ref} style={{ width: 2154, height: 2288 }} />;
}
